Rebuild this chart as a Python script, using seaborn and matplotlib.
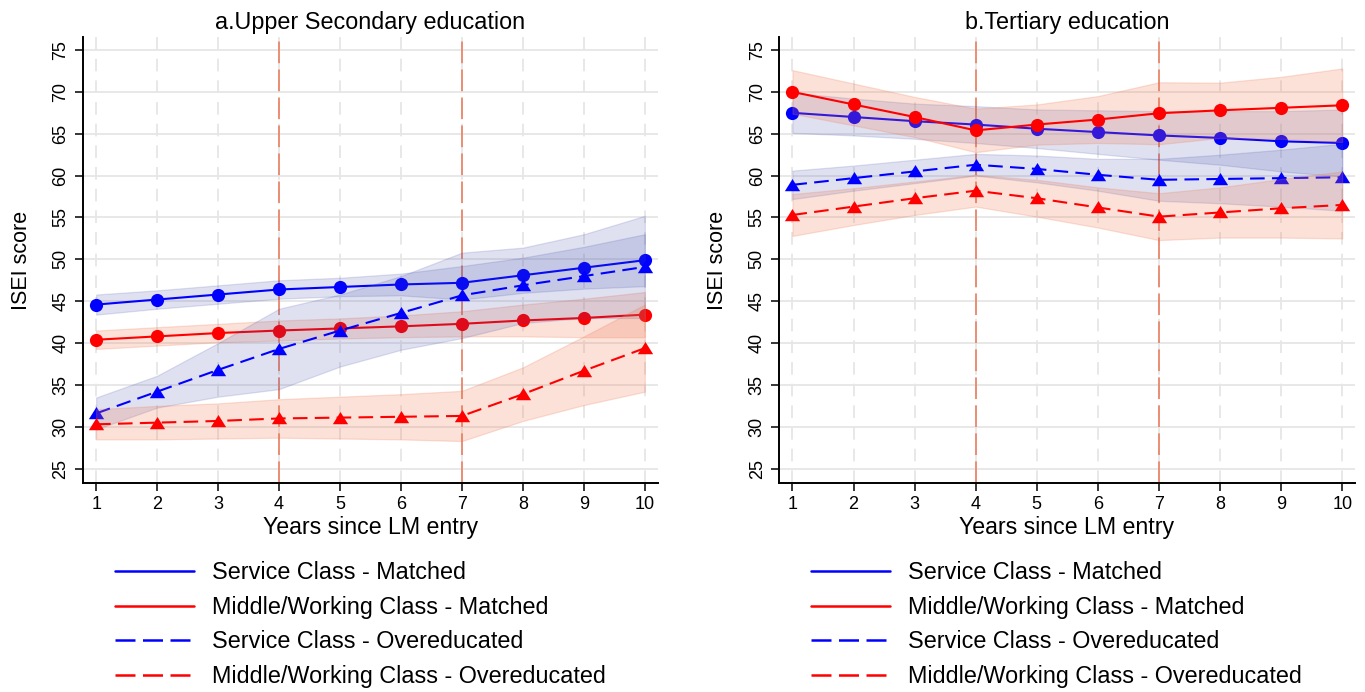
import seaborn as sns
import matplotlib.pyplot as plt
from matplotlib.lines import Line2D

years = list(range(1, 11))

# a. Upper secondary education: estimates and CI half-widths
svc_matched_sec = [44.6, 45.2, 45.8, 46.4, 46.7, 47.0, 47.2, 48.1, 49.0, 49.9]
svc_matched_sec_ci = [1.2, 1.1, 1.1, 1.1, 1.1, 1.3, 2.0, 2.1, 2.5, 3.1]
mid_matched_sec = [40.4, 40.8, 41.2, 41.5, 41.75, 42.0, 42.3, 42.7, 43.0, 43.4]
mid_matched_sec_ci = [1.1, 1.1, 1.1, 1.2, 1.2, 1.3, 1.5, 1.9, 2.3, 2.7]
svc_over_sec = [31.6, 34.2, 36.8, 39.3, 41.5, 43.6, 45.7, 46.9, 48.0, 49.1]
svc_over_sec_ci = [1.9, 1.9, 3.2, 4.8, 4.3, 4.4, 5.1, 4.5, 5.0, 6.1]
mid_over_sec = [30.3, 30.5, 30.7, 31.0, 31.1, 31.2, 31.3, 33.9, 36.7, 39.4]
mid_over_sec_ci = [1.8, 2.0, 2.1, 2.3, 2.5, 2.7, 3.0, 3.2, 4.1, 5.2]

# b. Tertiary education
svc_matched_ter = [67.5, 67.0, 66.5, 66.1, 65.6, 65.2, 64.8, 64.5, 64.1, 63.9]
svc_matched_ter_ci = [2.4, 2.2, 2.1, 2.2, 2.3, 2.6, 2.9, 3.2, 3.6, 4.0]
mid_matched_ter = [70.0, 68.5, 67.0, 65.4, 66.1, 66.7, 67.45, 67.8, 68.1, 68.4]
mid_matched_ter_ci = [2.6, 2.5, 2.4, 2.6, 2.4, 2.8, 3.7, 3.3, 3.7, 4.4]
svc_over_ter = [58.9, 59.7, 60.5, 61.3, 60.8, 60.1, 59.5, 59.6, 59.7, 59.8]
svc_over_ter_ci = [1.7, 1.5, 1.4, 1.3, 1.6, 1.9, 2.5, 2.9, 3.4, 4.0]
mid_over_ter = [55.3, 56.3, 57.3, 58.2, 57.3, 56.2, 55.1, 55.6, 56.1, 56.5]
mid_over_ter_ci = [2.5, 2.2, 2.0, 1.9, 2.2, 2.4, 2.8, 3.0, 3.5, 4.0]

series_labels = ['Service Class - Matched', 'Middle/Working Class - Matched',
                 'Service Class - Overeducated', 'Middle/Working Class - Overeducated']
titles = ['a.Upper Secondary education', 'b.Tertiary education']
cutoffs = [4, 7]

sns.set_style('white')
plt.rcParams['font.family'] = ['Liberation Sans', 'DejaVu Sans']
plt.rcParams['text.color'] = 'black'
plt.rcParams['axes.labelcolor'] = 'black'
plt.rcParams['xtick.color'] = 'black'
plt.rcParams['ytick.color'] = 'black'

line_cols = ['#0000FF', '#FF0000', '#0000FF', '#FF0000']
band_cols = ['#3A48A8', '#F07850', '#3A48A8', '#F07850']
band_alpha = [0.16, 0.22, 0.16, 0.22]
tri = [(-1, -0.75), (1, -0.75), (0, 0.85)]
markers = ['o', 'o', tri, tri]
msizes = [9.5, 9.5, 11, 11]
styles = ['-', '-', (0, (7, 3.5)), (0, (7, 3.5))]

panels = [
    [(svc_matched_sec, svc_matched_sec_ci), (mid_matched_sec, mid_matched_sec_ci),
     (svc_over_sec, svc_over_sec_ci), (mid_over_sec, mid_over_sec_ci)],
    [(svc_matched_ter, svc_matched_ter_ci), (mid_matched_ter, mid_matched_ter_ci),
     (svc_over_ter, svc_over_ter_ci), (mid_over_ter, mid_over_ter_ci)],
]

fig = plt.figure(figsize=(13.65, 6.92), dpi=100)
ax_pos = [[0.0606, 0.3025, 0.4212, 0.6436], [0.5707, 0.3025, 0.422, 0.6436]]
leg_x = [115 / 1365, 811 / 1365]

for p, data in enumerate(panels):
    ax = fig.add_axes(ax_pos[p])
    ax.set_xlim(0.78, 10.21)
    ax.set_ylim(23.33, 76.52)
    ax.set_xticks(years)
    ax.set_yticks(range(25, 80, 5))
    ax.yaxis.grid(True, color='#E6E6E6', lw=1.3, ls='-')
    ax.xaxis.grid(True, color='#E6E6E6', lw=1.3, ls=(0, (7, 5)))
    ax.set_axisbelow(True)
    for c in cutoffs:
        ax.axvline(c, color='#E8866A', lw=1.3, ls=(0, (12, 3.5)), zorder=1.5)

    # band first, then its line, so later bands tint earlier lines
    for i, (vals, ci) in enumerate(data):
        lo = [v - h for v, h in zip(vals, ci)]
        hi = [v + h for v, h in zip(vals, ci)]
        ax.fill_between(years, lo, hi, facecolor=band_cols[i], edgecolor=band_cols[i],
                        alpha=band_alpha[i], lw=0.9, zorder=2 + 2 * i)
        sns.lineplot(x=years, y=vals, ax=ax, color=line_cols[i], lw=1.5,
                     linestyle=styles[i], marker=markers[i], markersize=msizes[i],
                     markeredgewidth=0, zorder=3 + 2 * i)

    sns.despine(ax=ax)
    for s in ['left', 'bottom']:
        ax.spines[s].set_color('black')
        ax.spines[s].set_linewidth(1.4)
    ax.tick_params(axis='both', which='major', direction='out', length=5.5, width=1.1,
                   color='black', labelsize=13, pad=4, left=True, bottom=True)
    for lab in ax.get_yticklabels():
        lab.set_rotation(90)
        lab.set_va('center')
    ax.set_title(titles[p], fontsize=16.8, pad=6)
    ax.set_xlabel('Years since LM entry', fontsize=16.7, labelpad=2)
    ax.set_ylabel('ISEI score', fontsize=15.5)
    ax.yaxis.set_label_coords(-0.089, 0.5)

    handles = [Line2D([0], [0], color=line_cols[i], lw=1.8,
                      ls='-' if i < 2 else (0, (8, 3))) for i in range(4)]
    fig.legend(handles, series_labels, loc='upper left',
               bbox_to_anchor=(leg_x[p], 1 - 561 / 692), frameon=False,
               fontsize=16.8, handlelength=3.4, handletextpad=0.75,
               labelspacing=0.5, borderpad=0, borderaxespad=0)

fig.savefig('out.png', dpi=100, facecolor='white')
